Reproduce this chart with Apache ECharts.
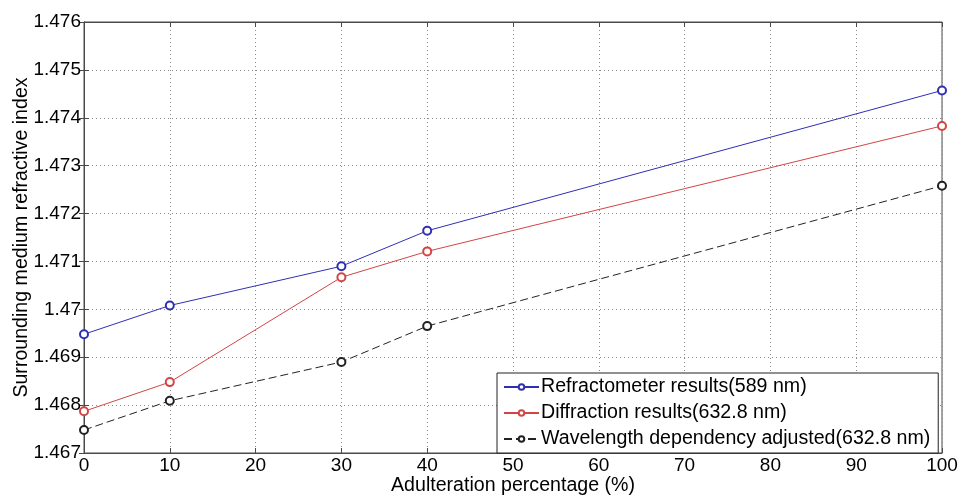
<!DOCTYPE html>
<html>
<head>
<meta charset="utf-8">
<script src="https://cdn.jsdelivr.net/npm/echarts@6/dist/echarts.min.js"></script>
<style>html,body{margin:0;padding:0;background:#fff}#c{width:960px;height:495px}</style>
</head>
<body>
<div id="c"></div>
<script>
const xValues = [0, 10, 30, 40, 100];
const refractometer = [1.46948, 1.47008, 1.47090, 1.47164, 1.47457];
const diffraction = [1.46787, 1.46848, 1.47067, 1.47121, 1.47383];
const wavelengthAdj = [1.46748, 1.46809, 1.46890, 1.46965, 1.47258];
const seriesNames = ['Refractometer results(589 nm)', 'Diffraction results(632.8 nm)', 'Wavelength dependency adjusted(632.8 nm)'];
const xTicks = [0, 10, 20, 30, 40, 50, 60, 70, 80, 90, 100];
const yTickLabels = ['1.467', '1.468', '1.469', '1.47', '1.471', '1.472', '1.473', '1.474', '1.475', '1.476'];

const FONT = 'Liberation Sans, Arial, sans-serif';
const FS = 19;
const FS2 = 19.6;
const axisCol = '#4a4a4a';
const gridLine = { show: true, lineStyle: { color: '#8a8a8a', type: [1, 3], width: 1 } };

function pairs(ys) { return xValues.map((x, i) => [x, ys[i]]); }
function yLabel(v) {
  const idx = Math.round((v - 1.467) / 0.001);
  return yTickLabels[idx] !== undefined ? yTickLabels[idx] : '';
}

const chart = echarts.init(document.getElementById('c'), null, { renderer: 'canvas' });
chart.setOption({
  animation: false,
  backgroundColor: '#fff',
  textStyle: { fontFamily: FONT },
  grid: { left: 84, right: 18, top: 22, bottom: 42, show: true, borderColor: axisCol, borderWidth: 1,
    backgroundColor: 'transparent', containLabel: false, outerBoundsMode: 'none' },
  xAxis: [{
    type: 'value', min: 0, max: 100, interval: 10,
    name: 'Adulteration percentage (%)', nameLocation: 'middle', nameGap: 23, nameMoveOverlap: false,
    nameTextStyle: { fontSize: FS2, color: '#000', fontFamily: FONT, verticalAlign: 'top' },
    axisLine: { show: true, lineStyle: { color: axisCol } },
    axisTick: { show: true, inside: true, length: 5, lineStyle: { color: axisCol } },
    axisLabel: { fontSize: FS, color: '#000', margin: 3, fontFamily: FONT,
      formatter: v => xTicks.indexOf(v) >= 0 ? String(v) : '' },
    splitLine: gridLine
  }, {
    type: 'value', min: 0, max: 100, interval: 10, position: 'top',
    axisLine: { show: true, lineStyle: { color: axisCol } },
    axisTick: { show: true, inside: true, length: 5, lineStyle: { color: axisCol } },
    axisLabel: { show: false }, splitLine: { show: false }
  }],
  yAxis: [{
    type: 'value', min: 1.467, max: 1.476, interval: 0.001,
    name: 'Surrounding medium refractive index', nameLocation: 'middle', nameGap: 52, nameMoveOverlap: false,
    nameTextStyle: { fontSize: FS2, color: '#000', fontFamily: FONT },
    axisLine: { show: true, lineStyle: { color: axisCol } },
    axisTick: { show: true, inside: true, length: 5, lineStyle: { color: axisCol } },
    axisLabel: { fontSize: FS, color: '#000', margin: 3, fontFamily: FONT, formatter: yLabel },
    splitLine: gridLine
  }, {
    type: 'value', min: 1.467, max: 1.476, interval: 0.001, position: 'right',
    axisLine: { show: true, lineStyle: { color: axisCol } },
    axisTick: { show: true, inside: true, length: 5, lineStyle: { color: axisCol } },
    axisLabel: { show: false }, splitLine: { show: false }
  }],
  legend: {
    orient: 'vertical', left: 497, top: 373,
    backgroundColor: '#fff', borderColor: '#222', borderWidth: 1, borderRadius: 0,
    padding: [4, 8, 4, 6], itemGap: 6, itemWidth: 35, itemHeight: 7,
    textStyle: { fontSize: FS2, color: '#000', fontFamily: FONT, lineHeight: 19, padding: [0, 0, 0, -3] },
    data: seriesNames
  },
  series: [{
    name: seriesNames[0], type: 'line', data: pairs(refractometer),
    symbol: 'emptyCircle', symbolSize: 8,
    lineStyle: { color: '#2f2fb4', width: 1 }, itemStyle: { color: '#2f2fb4', borderWidth: 1 }
  }, {
    name: seriesNames[1], type: 'line', data: pairs(diffraction),
    symbol: 'emptyCircle', symbolSize: 8,
    lineStyle: { color: '#d34545', width: 1 }, itemStyle: { color: '#d34545', borderWidth: 1 }
  }, {
    name: seriesNames[2], type: 'line', data: pairs(wavelengthAdj),
    symbol: 'emptyCircle', symbolSize: 8,
    lineStyle: { color: '#222', width: 1, type: [8, 4] }, itemStyle: { color: '#222', borderWidth: 1 }
  }]
});
</script>
</body>
</html>
